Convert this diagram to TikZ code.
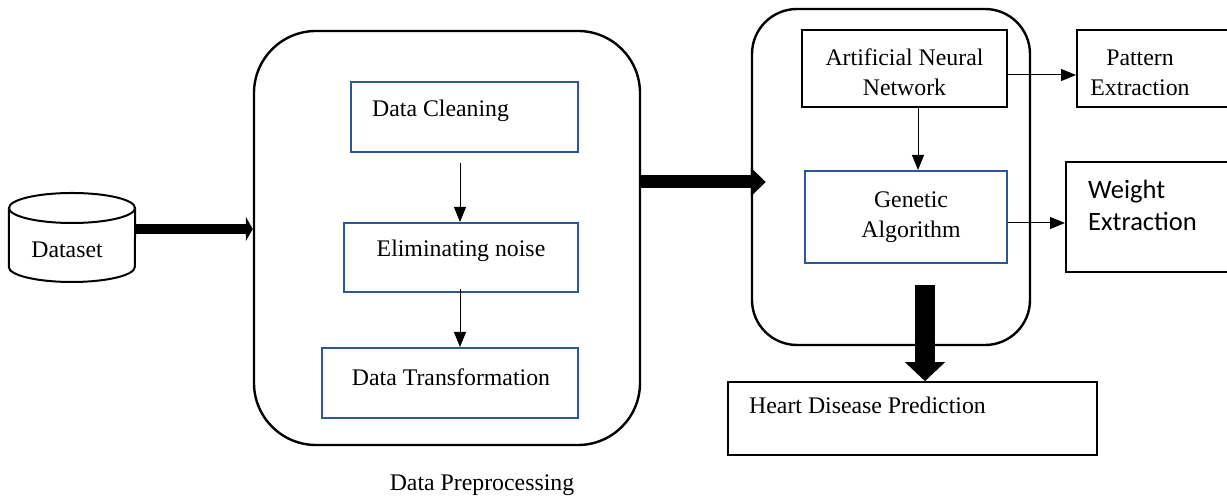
\documentclass[tikz,border=0pt]{standalone}
\usepackage{fontspec}
\setmainfont{Liberation Serif}
\newfontfamily\calibrifont{Carlito}
\usetikzlibrary{arrows.meta,calc}
\definecolor{boxblue}{HTML}{2F5597}
\begin{document}
\begin{tikzpicture}[x=1pt,y=1pt,
  every node/.style={font=\fontsize{23.8}{30}\selectfont},
  plainbox/.style={draw=black,line width=2pt,inner sep=0pt},
  bluebox/.style={draw=boxblue,line width=2pt,inner sep=0pt},
  groupbox/.style={draw=black,line width=2.4pt,inner sep=0pt},
  txt/.style={inner sep=0pt,align=center},
  sanstxt/.style={inner sep=0pt,anchor=base west,font=\calibrifont\fontsize{26.5}{32}\selectfont},
  thin arrow/.style={line width=1pt,-{Triangle[length=15pt,width=12pt]}}
]
\useasboundingbox (0,0) rectangle (1227,497);

% dataset cylinder
\node[minimum width=126pt,minimum height=89pt,inner sep=0pt] (ds) at (72,259.5) {};
\draw[line width=2pt] (ds.north west |- 0,289) -- (ds.south west |- 0,230)
  arc[start angle=180,end angle=360,x radius=63pt,y radius=15pt]
  -- (ds.north east |- 0,289);
\draw[line width=2pt] (72,289) ellipse[x radius=63pt,y radius=15pt];
\node[txt] (dstxt) at (67,247) {Dataset};

% preprocessing group
\node[groupbox,rounded corners=62pt,minimum width=386pt,minimum height=414pt] (pre) at (447,259) {};
\node[txt] (pretxt) at (482,12) {Data Preprocessing};

\node[bluebox,minimum width=227pt,minimum height=70pt] (dc) at (464.5,380) {};
\node[inner sep=0pt,anchor=base west] (dctxt) at (372,380.5) {Data Cleaning};

\node[bluebox,minimum width=234pt,minimum height=69pt] (en) at (461,239.5) {};
\node[txt] (entxt) at (461,246) {Eliminating noise};

\node[bluebox,minimum width=256pt,minimum height=70pt] (dt) at (450,114) {};
\node[txt] (dttxt) at (451,120) {Data Transformation};

% learning group
\node[groupbox,rounded corners=45pt,minimum width=278pt,minimum height=336pt] (ml) at (891,320) {};

\node[plainbox,minimum width=205pt,minimum height=77pt] (ann) at (904.5,428.5) {};
\node[txt] (anntxt) at (904.5,425) {Artificial Neural\\Network};

\node[bluebox,minimum width=202pt,minimum height=92pt] (ga) at (906,280) {};
\node[txt] (gatxt) at (911,280) {Genetic\\Algorithm};

\node[plainbox,minimum width=160pt,minimum height=77pt] (pat) at (1157,428.5) {};
\node[txt] (pattxt) at (1140,424) {Pattern\\Extraction};

\node[plainbox,minimum width=170pt,minimum height=110pt] (we) at (1151,280) {};
\node[sanstxt] (wetxt) at (1088,298) {Weight};
\node[sanstxt] (wetxt2) at (1088,266) {Extraction};

\node[draw=black,line width=1.6pt,inner sep=0pt,minimum width=369pt,minimum height=73pt] (hdp) at (912.5,78.5) {};
\node[inner sep=0pt,anchor=base west] (hdptxt) at (749,83) {Heart Disease Prediction};

% thin connectors
\coordinate (a1) at ([yshift=-10pt]dc.south -| 460,0);
\draw[thin arrow] (a1) -- (a1 |- en.north);
\coordinate (a2) at ([yshift=4pt]en.south -| 460,0);
\draw[thin arrow] (a2) -- (a2 |- dt.north);
\coordinate (a3) at (ann.south -| 918,0);
\draw[thin arrow] (a3) -- (a3 |- ga.north);
\coordinate (a4) at (ann.east |- 0,422);
\draw[thin arrow] (a4) -- (pat.west |- a4);
\coordinate (a5) at (ga.east |- 0,274);
\draw[thin arrow] (a5) -- (we.west |- a5);

% thick connectors
\coordinate (f1) at (ds.east |- 0,268);
\draw[line width=10pt,-{Triangle[length=7pt,width=24pt]}] (f1) -- (pre.west |- f1);
\coordinate (f2) at (pre.east |- 0,315);
\coordinate (f2e) at ([xshift=15pt]ml.west |- f2);
\draw[line width=13pt,-{Triangle[length=15pt,width=28pt]}] (f2) -- (f2e);
\coordinate (f3) at (925,212);
\draw[line width=20pt,-{Triangle[length=19pt,width=39pt]}] (f3) -- (f3 |- hdp.north);
\end{tikzpicture}
\end{document}
